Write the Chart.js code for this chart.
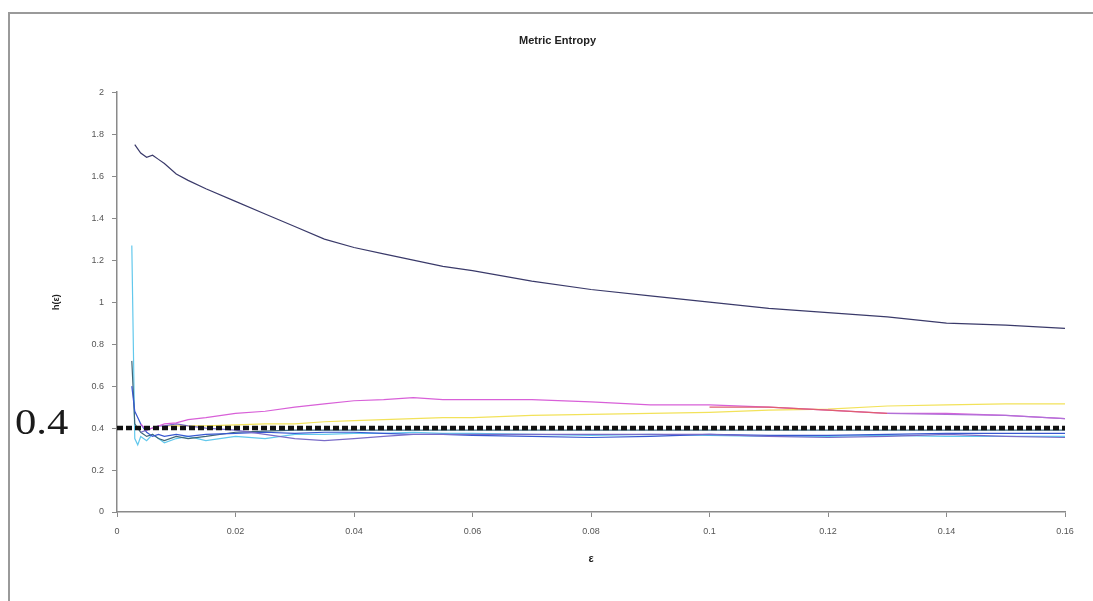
<!DOCTYPE html>
<html>
<head>
<meta charset="utf-8">
<script src="https://cdn.jsdelivr.net/npm/chart.js@4.4.1/dist/chart.umd.min.js"></script>
<style>
  html, body { margin: 0; padding: 0; background: #fff; }
  #wrap { position: relative; width: 1093px; height: 601px; }
</style>
</head>
<body>
<div id="wrap"><canvas id="myChart" width="1093" height="601"></canvas></div>
<script>
// epsilon grid shared by all series (null = no value there)
const eps = [0.0025, 0.003, 0.0035, 0.004, 0.005, 0.006, 0.007, 0.008, 0.01, 0.012,
             0.015, 0.02, 0.025, 0.03, 0.035, 0.04, 0.045, 0.05, 0.055, 0.06,
             0.07, 0.08, 0.09, 0.1, 0.11, 0.12, 0.13, 0.14, 0.15, 0.16];

// series values
const hNavy = [null, 1.75, 1.73, 1.71, 1.69, 1.70, 1.68, 1.66, 1.61, 1.58,
               1.54, 1.48, 1.42, 1.36, 1.30, 1.26, 1.23, 1.20, 1.17, 1.15,
               1.10, 1.06, 1.03, 1.00, 0.97, 0.95, 0.93, 0.90, 0.89, 0.875];
const hMagenta = [null, null, null, 0.42, 0.39, 0.40, 0.41, 0.42, 0.425, 0.44,
                  0.45, 0.47, 0.48, 0.50, 0.515, 0.53, 0.535, 0.545, 0.535, 0.535,
                  0.535, 0.525, 0.51, 0.51, 0.50, 0.485, 0.47, 0.47, 0.46, 0.445];
const hRed = [null, null, null, null, null, null, null, null, null, null,
              null, null, null, null, null, null, null, null, null, null,
              null, null, null, 0.50, 0.50, 0.485, 0.47, null, null, null];
const hViolet = [null, null, null, null, null, null, null, null, null, null,
                 null, null, null, null, null, null, null, null, null, null,
                 null, null, null, null, null, null, 0.47, 0.465, 0.46, 0.445];
const hYellow = [null, null, null, null, null, null, null, 0.41, 0.41, 0.41,
                 0.41, 0.415, 0.42, 0.42, 0.43, 0.435, 0.44, 0.445, 0.45, 0.45,
                 0.46, 0.465, 0.47, 0.475, 0.485, 0.49, 0.505, 0.51, 0.515, 0.515];
const hCyan = [1.27, 0.35, 0.32, 0.36, 0.34, 0.37, 0.35, 0.33, 0.35, 0.36,
               0.34, 0.36, 0.35, 0.37, 0.37, 0.375, 0.375, 0.38, 0.375, 0.375,
               0.37, 0.365, 0.37, 0.365, 0.36, 0.36, 0.365, 0.36, 0.36, 0.36];
const hBlue = [0.60, 0.48, 0.45, 0.42, 0.38, 0.36, 0.37, 0.36, 0.37, 0.36,
               0.37, 0.375, 0.38, 0.375, 0.38, 0.38, 0.375, 0.37, 0.37, 0.365,
               0.36, 0.355, 0.36, 0.37, 0.365, 0.365, 0.37, 0.375, 0.375, 0.375];
const hTeal = [0.72, 0.42, 0.40, 0.38, 0.36, 0.37, 0.35, 0.34, 0.36, 0.35,
               0.36, 0.38, 0.385, 0.39, 0.39, 0.39, 0.39, 0.39, 0.39, 0.39,
               0.39, 0.39, 0.39, 0.39, 0.39, 0.39, 0.39, 0.39, 0.39, 0.39];
const hLavender = [null, null, null, 0.38, 0.39, 0.40, 0.41, 0.41, 0.42, 0.41,
                   0.40, 0.39, 0.37, 0.35, 0.34, 0.35, 0.36, 0.37, 0.37, 0.37,
                   0.37, 0.37, 0.37, 0.37, 0.36, 0.355, 0.36, 0.37, 0.36, 0.355];
const refEps = [0, 0.16];
const refH = [0.4, 0.4];

const yTicks = { min: 0, max: 2, step: 0.2 };
const xTicks = { min: 0, max: 0.16, step: 0.02 };

function pts(xs, ys) {
    return xs.map((x, i) => ({ x: x, y: ys[i] }));
}

function series(values, color) {
    return {
        data: pts(eps, values),
        borderColor: color,
        borderWidth: 1.2,
        pointRadius: 0,
        tension: 0,
        spanGaps: false
    };
}

// plain number labels like 0.1, 1, 2
function plain(digits) {
    return v => String(Number(v.toFixed(digits)));
}

// frame and the big "0.4" note
const decor = {
    id: 'decor',
    beforeDraw(chart) {
        const ctx = chart.ctx;
        ctx.save();
        ctx.fillStyle = '#fff';
        ctx.fillRect(0, 0, chart.width, chart.height);
        ctx.strokeStyle = '#9a9a9a';
        ctx.lineWidth = 2;
        ctx.beginPath();
        ctx.moveTo(9, chart.height);
        ctx.lineTo(9, 13);
        ctx.lineTo(chart.width, 13);
        ctx.stroke();
        ctx.restore();
    },
    afterDraw(chart) {
        const ctx = chart.ctx;
        ctx.save();
        ctx.fillStyle = '#1a1a1a';
        ctx.font = '35px "Liberation Serif", "Times New Roman", serif';
        ctx.textBaseline = 'alphabetic';
        ctx.translate(15, 434);
        ctx.scale(1.22, 1);
        ctx.fillText('0.4', 0, 0);
        ctx.restore();
    }
};

const data = {
    datasets: [
        {
            data: pts(refEps, refH),
            borderColor: '#111',
            borderWidth: 4.5,
            borderDash: [6, 3],
            pointRadius: 0
        },
        series(hNavy, '#3a3a6a'),
        series(hViolet, '#b070d8'),
        series(hRed, '#e06070'),
        series(hMagenta, '#d860d8'),
        series(hLavender, '#7a6cc8'),
        series(hBlue, '#3858d0'),
        series(hTeal, '#3d6678'),
        series(hCyan, '#62c8ec'),
        series(hYellow, '#f2e25a')
    ]
};

const tickFont = { family: '"Liberation Sans", Arial, sans-serif', size: 9 };

const config = {
    type: 'line',
    data: data,
    plugins: [decor],
    options: {
        responsive: false,
        animation: false,
        layout: { padding: { top: 34, left: 50, right: 28, bottom: 0 } },
        plugins: {
            legend: { display: false },
            tooltip: { enabled: false },
            title: {
                display: true,
                text: 'Metric Entropy',
                color: '#222',
                font: { family: '"Liberation Sans", Arial, sans-serif', size: 11, weight: 'bold' },
                padding: { top: 0, bottom: 45 }
            }
        },
        scales: {
            x: {
                type: 'linear',
                min: xTicks.min,
                max: xTicks.max,
                afterFit(scale) { scale.height = 89; },
                ticks: {
                    stepSize: xTicks.step,
                    color: '#555',
                    font: tickFont,
                    padding: 9,
                    maxRotation: 0,
                    callback: plain(2)
                },
                grid: { drawOnChartArea: false, drawTicks: true, tickLength: 5, color: '#8a8a8a' },
                border: { color: '#8a8a8a', width: 1.5 },
                title: {
                    display: true,
                    text: 'ε',
                    color: '#222',
                    font: { family: '"Liberation Sans", Arial, sans-serif', size: 11, weight: 'bold' },
                    padding: { top: 0, bottom: 35 }
                }
            },
            y: {
                min: yTicks.min,
                max: yTicks.max,
                afterFit(scale) { scale.width = 67; },
                ticks: {
                    stepSize: yTicks.step,
                    color: '#555',
                    font: tickFont,
                    padding: 8,
                    callback: plain(1)
                },
                grid: { drawOnChartArea: false, drawTicks: true, tickLength: 5, color: '#8a8a8a' },
                border: { color: '#8a8a8a', width: 1.5 },
                title: {
                    display: true,
                    text: 'h(ε)',
                    color: '#222',
                    font: { family: '"Liberation Sans", Arial, sans-serif', size: 9, weight: 'bold' },
                    padding: { top: 1, bottom: 0 }
                }
            }
        }
    }
};

const myChart = new Chart(document.getElementById('myChart'), config);
</script>
</body>
</html>
